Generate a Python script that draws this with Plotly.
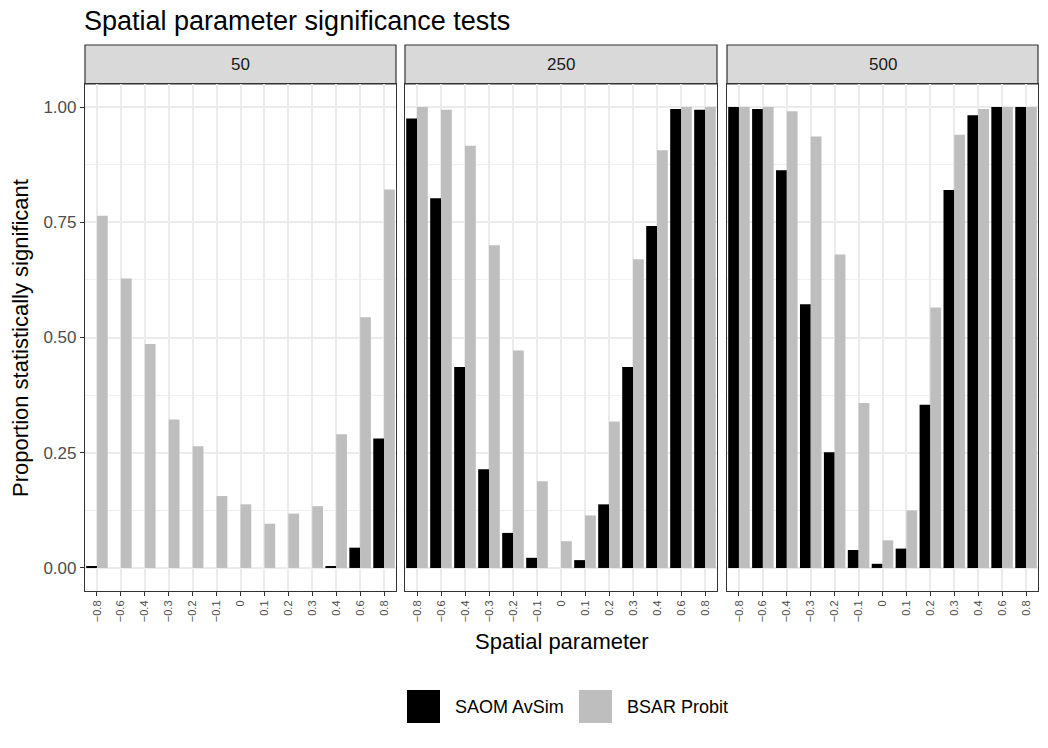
import plotly.graph_objects as go

categories = ["-0.8", "-0.6", "-0.4", "-0.3", "-0.2", "-0.1", "0", "0.1", "0.2", "0.3", "0.4", "0.6", "0.8"]
tick_labels = [c.replace("-", "\u2212") for c in categories]
panels = ["50", "250", "500"]

saom_50 = [0.003, 0, 0, 0, 0, 0, 0, 0, 0, 0, 0.003, 0.044, 0.281]
bsar_50 = [0.764, 0.628, 0.486, 0.322, 0.264, 0.156, 0.138, 0.096, 0.118, 0.134, 0.290, 0.544, 0.821]
saom_250 = [0.975, 0.802, 0.436, 0.214, 0.076, 0.022, 0.0, 0.017, 0.138, 0.436, 0.742, 0.996, 0.994]
bsar_250 = [1.0, 0.994, 0.916, 0.700, 0.472, 0.188, 0.058, 0.114, 0.318, 0.670, 0.906, 1.0, 1.0]
saom_500 = [1.0, 0.996, 0.863, 0.572, 0.251, 0.039, 0.009, 0.042, 0.354, 0.820, 0.982, 1.0, 1.0]
bsar_500 = [1.0, 1.0, 0.991, 0.936, 0.680, 0.358, 0.060, 0.125, 0.565, 0.940, 0.996, 1.0, 1.0]

series_names = ["SAOM AvSim", "BSAR Probit"]
colors = ["#000000", "#BEBEBE"]
data = {"50": [saom_50, bsar_50], "250": [saom_250, bsar_250], "500": [saom_500, bsar_500]}

W, H = 1048, 748
L, R, T, B = 85, 10, 84, 157
PW, PH = W - L - R, H - T - B

def px_x(p):
    return (p - L) / PW

def px_y(p):
    return (H - B - p) / PH

domains = [(85, 396), (405, 717), (727, 1038)]
FONT = "Liberation Sans, Arial, sans-serif"

fig = go.Figure()
shapes = []
annotations = []
for i, pnl in enumerate(panels):
    xa = "x" if i == 0 else f"x{i+1}"
    ya = "y" if i == 0 else f"y{i+1}"
    for s in range(2):
        fig.add_trace(go.Bar(
            x=categories, y=data[pnl][s], name=series_names[s],
            marker=dict(color=colors[s], line=dict(width=0)),
            xaxis=xa, yaxis=ya, showlegend=False,
            offsetgroup=str(s),
        ))
    d0, d1 = domains[i]
    xkey = "xaxis" if i == 0 else f"xaxis{i+1}"
    ykey = "yaxis" if i == 0 else f"yaxis{i+1}"
    fig.layout[xkey] = dict(
        domain=[px_x(d0), px_x(d1)], anchor=ya, type="category",
        categoryorder="array", categoryarray=categories,
        tickmode="array", tickvals=categories, ticktext=tick_labels,
        tickangle=-90, tickfont=dict(size=11, color="#4D4D4D", family=FONT),
        ticks="outside", ticklen=4, tickcolor="#333333",
        showgrid=True, gridcolor="#EBEBEB", gridwidth=1.6,
        showline=True, linecolor="#333333", linewidth=1.2, mirror=True,
        zeroline=False, fixedrange=True,
    )
    fig.layout[ykey] = dict(
        domain=[0, 1], anchor=xa, range=[-0.05, 1.05],
        tickmode="array", tickvals=[0, 0.25, 0.5, 0.75, 1.0],
        ticktext=["0.00", "0.25", "0.50", "0.75", "1.00"] if i == 0 else [""] * 5,
        showticklabels=(i == 0),
        tickfont=dict(size=17, color="#4D4D4D", family=FONT),
        ticks="outside" if i == 0 else "", ticklen=4, tickcolor="#333333",
        showgrid=True, gridcolor="#EBEBEB", gridwidth=1.6,
        minor=dict(tickvals=[0.125, 0.375, 0.625, 0.875], showgrid=True,
                   gridcolor="#EFEFEF", gridwidth=0.9, ticks=""),
        showline=True, linecolor="#333333", linewidth=1.2, mirror=True,
        zeroline=False, fixedrange=True,
    )
    # strip
    shapes.append(dict(type="rect", xref="paper", yref="paper",
                       x0=px_x(d0), x1=px_x(d1), y0=1.0, y1=px_y(45),
                       fillcolor="#D9D9D9", line=dict(color="#333333", width=1.2), layer="below"))
    annotations.append(dict(text=pnl, xref="paper", yref="paper",
                            x=(px_x(d0) + px_x(d1)) / 2, y=px_y(64.5),
                            showarrow=False, xanchor="center", yanchor="middle",
                            font=dict(size=17, color="#1A1A1A", family=FONT)))

# axis titles
annotations.append(dict(text="Spatial parameter", xref="paper", yref="paper",
                        x=px_x(562), y=px_y(641), showarrow=False,
                        xanchor="center", yanchor="middle",
                        font=dict(size=22, color="#000000", family=FONT)))
annotations.append(dict(text="Proportion statistically significant", xref="paper", yref="paper",
                        x=px_x(20), y=px_y(338), showarrow=False, textangle=-90,
                        xanchor="center", yanchor="middle",
                        font=dict(size=22, color="#000000", family=FONT)))

# legend (manual keys)
for name, col, kx in zip(series_names, colors, [407, 579]):
    shapes.append(dict(type="rect", xref="paper", yref="paper",
                       x0=px_x(kx), x1=px_x(kx + 33), y0=px_y(723), y1=px_y(690),
                       fillcolor=col, line=dict(width=0)))
    annotations.append(dict(text=name, xref="paper", yref="paper",
                            x=px_x(kx + 46), y=px_y(707), showarrow=False,
                            xanchor="left", yanchor="middle",
                            font=dict(size=18, color="#000000", family=FONT)))

fig.update_layout(
    width=W, height=H,
    margin=dict(l=L, r=R, t=T, b=B, pad=0),
    paper_bgcolor="white", plot_bgcolor="white",
    barmode="group", bargap=0.1, bargroupgap=0,
    title=dict(text="Spatial parameter significance tests", x=84 / W,
               xanchor="left", y=1 - 21 / H, yanchor="middle",
               font=dict(size=27, color="#000000", family=FONT)),
    shapes=shapes, annotations=annotations, showlegend=False,
)

fig.write_html("out.html")
